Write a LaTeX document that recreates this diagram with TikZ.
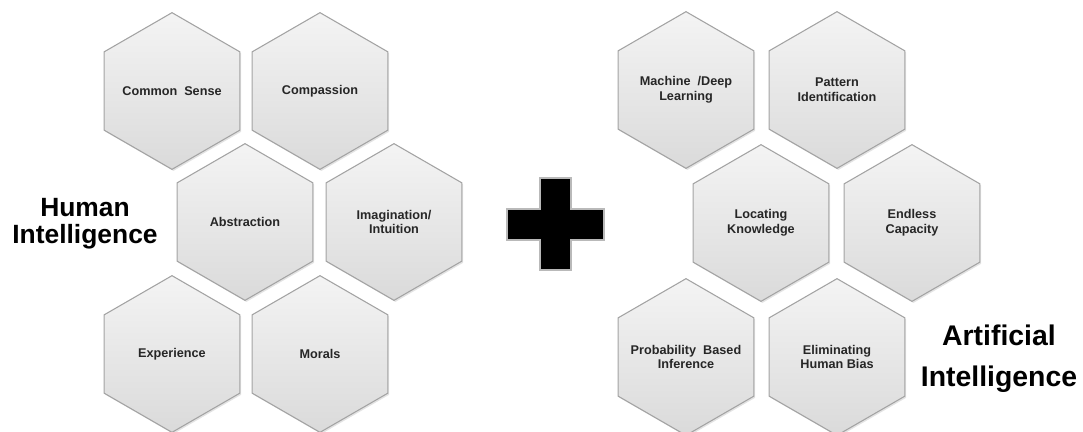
\documentclass[tikz,border=0pt]{standalone}
\usepackage{fontspec}
\setmainfont{Liberation Sans}
\usetikzlibrary{shapes.geometric,shadows}

\definecolor{hextop}{HTML}{F4F4F4}
\definecolor{hexbot}{HTML}{DADADA}
\definecolor{hexline}{HTML}{A3A3A3}
\definecolor{hextext}{HTML}{262626}

\tikzset{
  hexa/.style={regular polygon, regular polygon sides=6, shape border rotate=30,
    minimum size=117.5pt, inner sep=0pt, draw=hexline, line width=0.8pt,
    top color=hextop, bottom color=hexbot,
    drop shadow={shadow xshift=1pt, shadow yshift=-1.2pt, opacity=0.22},
    label={[hexlabel]center:#1}},
  hexlabel/.style={text=hextext, align=center, font=\fontsize{9.5}{11}\selectfont\bfseries},
  biglabel/.style={align=center, text=black}
}

\begin{document}
\begin{tikzpicture}[x=0.75pt,y=-0.75pt]
\useasboundingbox (0,0) rectangle (1083,432);
\begin{scope}
\node[hexa={Common\ \ Sense}] (cs) at (172,91) {};
\node[hexa={Compassion}] (comp) at (320,91) {};
\node[hexa={Abstraction}] (abstr) at (245,222) {};
\node[hexa={Imagination/\\Intuition}] (imag) at (394,222) {};
\node[hexa={Experience}] (exper) at (172,354) {};
\node[hexa={Morals}] (morals) at (320,354) {};
\node[biglabel, font=\fontsize{19.8}{20.3}\selectfont\bfseries] (human) at (85,224) {Human\\Intelligence};
\end{scope}
% the plus sign
\path[draw=gray!55, line width=1.5pt, fill=black]
  (540,178) -- (571,178) -- (571,209) -- (604,209) -- (604,240) -- (571,240)
  -- (571,270) -- (540,270) -- (540,240) -- (507,240) -- (507,209) -- (540,209) -- cycle;
\begin{scope}
\node[hexa={Machine\ \ /Deep\\Learning}] (mdl) at (686,90) {};
\node[hexa={Pattern\\Identification}] (pattern) at (837,90) {};
\node[hexa={Locating\\Knowledge}] (locate) at (761,223) {};
\node[hexa={Endless\\Capacity}] (endless) at (912,223) {};
\node[hexa={Probability\ \ Based\\Inference}] (prob) at (686,357) {};
\node[hexa={Eliminating\\Human Bias}] (bias) at (837,357) {};
\node[biglabel, font=\fontsize{21.3}{30.8}\selectfont\bfseries] (artif) at (999,359) {Artificial\\Intelligence};
\end{scope}
\end{tikzpicture}
\end{document}
